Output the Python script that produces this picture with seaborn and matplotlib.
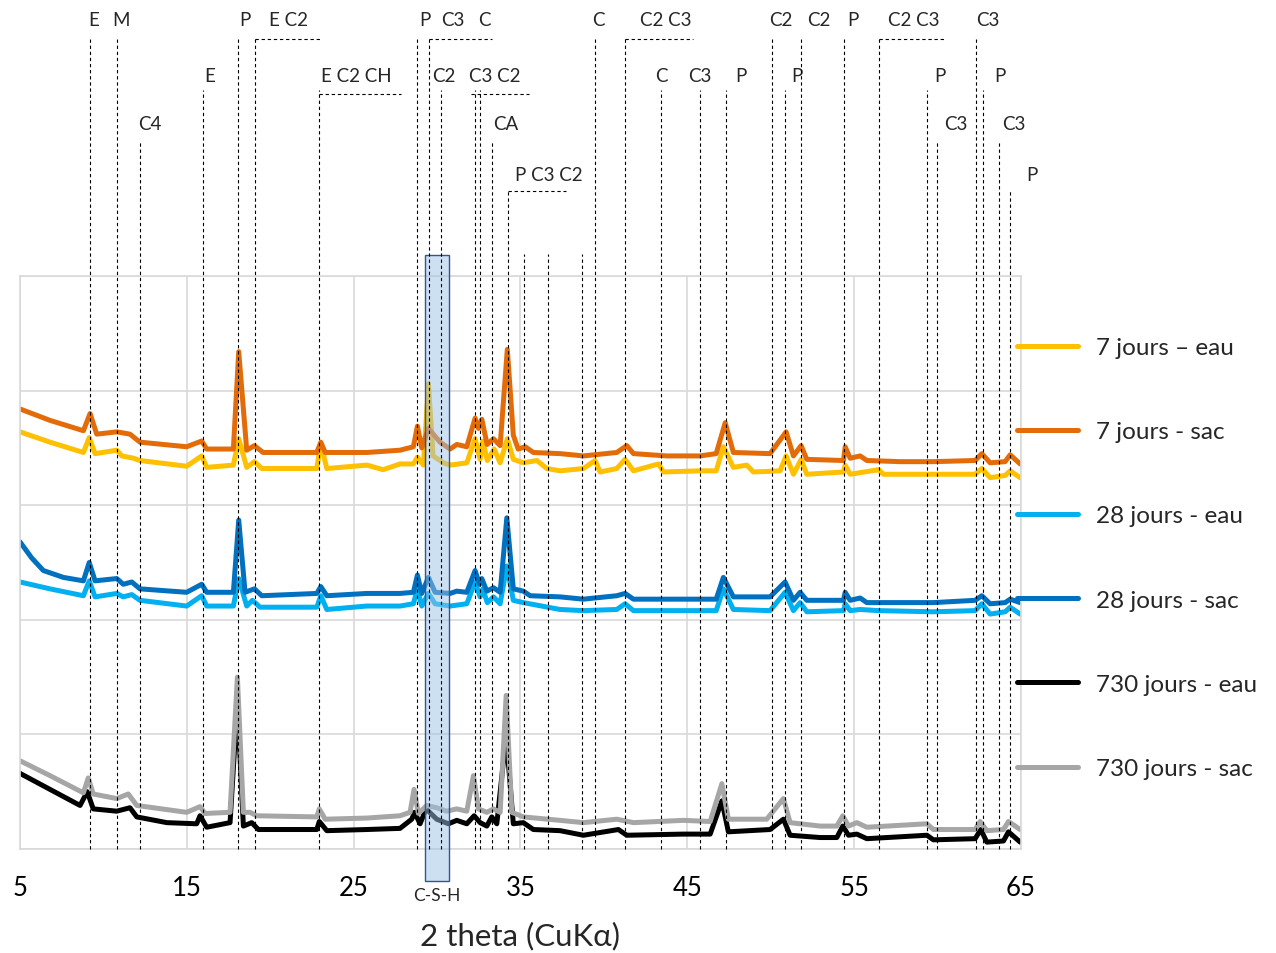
import matplotlib.pyplot as plt
import numpy as np
import pandas as pd
import seaborn as sns
from matplotlib.patches import Rectangle

# diffractograms: 2 theta (deg) and intensity (a.u., 1 = one grid step)
x_7j_eau = [5.00, 6.80, 8.80, 9.15, 9.50, 10.80, 11.10, 11.79, 12.19, 14.99, 15.89, 16.19, 17.79, 18.11, 18.59,
            19.05, 19.49, 22.79, 23.03, 23.39, 25.79, 26.76, 27.78, 28.58, 28.82, 29.18, 29.48, 29.76,
            30.38, 30.78, 31.78, 32.28, 32.58, 32.74, 33.01, 33.42, 33.78, 34.21, 34.57, 35.17, 35.98,
            36.58, 37.37, 38.77, 39.47, 39.77, 40.77, 41.27, 41.77, 43.27, 43.57, 45.77, 46.73, 47.16,
            47.76, 48.56, 48.96, 50.56, 50.92, 51.36, 51.82, 52.16, 54.36, 54.46, 54.76, 56.46, 56.76,
            59.75, 62.25, 62.65, 63.15, 64.05, 64.35, 64.95]
y_7j_eau = [3.64, 3.55, 3.46, 3.59, 3.45, 3.48, 3.43, 3.41, 3.39, 3.34, 3.43, 3.33, 3.35, 3.58, 3.33,
            3.38, 3.32, 3.32, 3.54, 3.32, 3.35, 3.31, 3.36, 3.36, 3.42, 3.35, 4.06, 3.43,
            3.37, 3.35, 3.37, 3.58, 3.40, 3.56, 3.39, 3.49, 3.37, 3.58, 3.40, 3.37, 3.39,
            3.32, 3.30, 3.32, 3.39, 3.29, 3.32, 3.40, 3.30, 3.36, 3.29, 3.30, 3.30, 3.51,
            3.33, 3.35, 3.29, 3.30, 3.43, 3.27, 3.40, 3.27, 3.29, 3.35, 3.27, 3.31, 3.27,
            3.27, 3.27, 3.32, 3.24, 3.26, 3.30, 3.24]

x_7j_sac = [5.00, 6.80, 8.80, 9.20, 9.60, 10.80, 11.59, 12.19, 14.99, 15.89, 16.19, 17.79, 18.11, 18.59, 19.05,
            19.57, 22.79, 23.03, 23.29, 25.79, 27.78, 28.58, 28.82, 29.08, 29.48, 30.18, 30.78, 31.18,
            31.78, 32.28, 32.48, 32.68, 33.00, 33.38, 33.78, 34.21, 34.57, 34.86, 35.28, 35.77, 37.37,
            38.77, 40.77, 41.37, 41.77, 43.77, 45.77, 46.73, 47.27, 47.76, 49.96, 50.92, 51.36, 51.82,
            52.16, 54.36, 54.46, 54.76, 55.36, 55.76, 57.76, 59.75, 62.25, 62.65, 63.15, 64.05, 64.35,
            64.95]
y_7j_sac = [3.84, 3.74, 3.65, 3.80, 3.62, 3.64, 3.62, 3.55, 3.51, 3.56, 3.49, 3.49, 4.34, 3.48, 3.52,
            3.46, 3.46, 3.55, 3.46, 3.46, 3.48, 3.51, 3.69, 3.50, 3.67, 3.55, 3.49, 3.53,
            3.51, 3.76, 3.67, 3.75, 3.53, 3.58, 3.52, 4.36, 3.61, 3.49, 3.51, 3.46, 3.45,
            3.43, 3.46, 3.52, 3.45, 3.43, 3.43, 3.45, 3.72, 3.46, 3.45, 3.64, 3.43, 3.52,
            3.40, 3.39, 3.51, 3.41, 3.43, 3.39, 3.38, 3.38, 3.39, 3.45, 3.37, 3.38, 3.44,
            3.36]

x_28j_eau = [5.00, 6.80, 8.80, 9.15, 9.50, 10.80, 11.19, 11.70, 12.19, 14.99, 15.89, 16.19, 17.79, 18.11, 18.59,
             18.93, 19.39, 22.79, 23.03, 23.39, 25.79, 27.78, 28.58, 28.82, 29.08, 29.48, 29.88, 30.78,
             31.78, 32.28, 32.58, 32.74, 33.01, 33.38, 33.78, 34.18, 34.57, 35.17, 37.37, 38.77, 40.77,
             41.27, 41.77, 45.77, 46.73, 47.16, 47.76, 49.96, 50.86, 51.36, 51.76, 52.16, 54.36, 54.46,
             54.76, 55.36, 56.46, 59.75, 62.25, 62.65, 63.15, 64.05, 64.35, 64.95]
y_28j_eau = [2.33, 2.27, 2.21, 2.34, 2.20, 2.23, 2.20, 2.22, 2.17, 2.12, 2.21, 2.12, 2.12, 2.36, 2.12,
             2.17, 2.11, 2.11, 2.21, 2.09, 2.12, 2.12, 2.14, 2.27, 2.12, 2.23, 2.14, 2.12,
             2.14, 2.33, 2.20, 2.27, 2.15, 2.20, 2.14, 2.47, 2.17, 2.15, 2.09, 2.08, 2.09,
             2.14, 2.08, 2.08, 2.08, 2.27, 2.09, 2.08, 2.24, 2.08, 2.15, 2.07, 2.08, 2.14,
             2.08, 2.09, 2.08, 2.07, 2.08, 2.14, 2.05, 2.07, 2.11, 2.05]

x_28j_sac = [5.00, 5.70, 6.40, 7.60, 8.80, 9.15, 9.50, 10.80, 11.19, 11.70, 12.19, 14.99, 15.89, 16.19, 17.79, 18.11,
             18.49, 19.05, 19.49, 22.79, 23.03, 23.39, 25.79, 27.78, 28.58, 28.82, 29.08, 29.48, 29.88,
             30.78, 31.18, 31.78, 32.28, 32.54, 32.68, 32.98, 33.38, 33.78, 34.18, 34.57, 35.17, 35.58,
             37.37, 38.77, 40.77, 41.27, 41.77, 45.77, 46.73, 47.16, 47.76, 49.96, 50.86, 51.36, 51.76,
             52.16, 54.36, 54.46, 54.76, 55.36, 55.76, 59.75, 62.25, 62.65, 63.15, 64.05, 64.35, 64.95]
y_28j_sac = [2.68, 2.54, 2.43, 2.37, 2.34, 2.50, 2.34, 2.36, 2.31, 2.33, 2.27, 2.24, 2.31, 2.24, 2.24, 2.87,
             2.24, 2.27, 2.21, 2.23, 2.29, 2.21, 2.23, 2.23, 2.24, 2.39, 2.23, 2.37, 2.24,
             2.23, 2.25, 2.24, 2.43, 2.31, 2.36, 2.25, 2.28, 2.24, 2.89, 2.27, 2.25, 2.21,
             2.20, 2.18, 2.21, 2.23, 2.18, 2.18, 2.18, 2.37, 2.20, 2.20, 2.33, 2.17, 2.24,
             2.17, 2.17, 2.24, 2.17, 2.19, 2.15, 2.15, 2.17, 2.21, 2.14, 2.15, 2.18, 2.15]

x_730j_eau = [5.00, 6.80, 8.60, 9.03, 9.39, 10.80, 11.59, 12.00, 13.80, 15.59, 15.79, 16.19, 17.59, 18.03,
              18.39, 18.89, 19.29, 22.79, 22.94, 23.39, 25.79, 27.78, 28.48, 28.65, 28.98, 29.34, 29.98,
              30.68, 31.18, 31.78, 32.22, 32.58, 32.98, 33.28, 33.58, 34.14, 34.57, 35.17, 35.77, 37.37,
              38.77, 40.87, 41.37, 44.77, 46.37, 47.07, 47.46, 49.96, 50.76, 51.16, 52.96, 53.96, 54.32,
              54.66, 55.16, 55.76, 59.36, 59.75, 62.25, 62.59, 62.95, 63.95, 64.25, 64.95]
y_730j_eau = [0.66, 0.52, 0.38, 0.50, 0.35, 0.33, 0.36, 0.28, 0.23, 0.22, 0.29, 0.19, 0.23, 1.28,
              0.20, 0.23, 0.17, 0.17, 0.24, 0.16, 0.17, 0.18, 0.26, 0.32, 0.22, 0.35, 0.26,
              0.22, 0.25, 0.22, 0.29, 0.23, 0.20, 0.28, 0.22, 0.99, 0.22, 0.23, 0.17, 0.16,
              0.12, 0.17, 0.12, 0.13, 0.13, 0.42, 0.15, 0.17, 0.26, 0.12, 0.10, 0.10, 0.20,
              0.12, 0.13, 0.09, 0.12, 0.08, 0.09, 0.17, 0.06, 0.07, 0.15, 0.06]

x_730j_sac = [5.00, 6.80, 8.80, 9.09, 9.39, 10.80, 11.49, 12.00, 14.99, 15.79, 16.09, 17.59, 18.03, 18.39,
              18.79, 19.19, 22.79, 22.94, 23.29, 25.79, 27.78, 28.38, 28.62, 28.88, 29.38, 29.98, 30.58,
              31.18, 31.78, 32.18, 32.48, 32.98, 33.38, 33.78, 34.14, 34.48, 35.17, 37.37, 38.77, 40.77,
              41.77, 44.77, 46.37, 47.07, 47.46, 49.76, 50.76, 51.16, 52.96, 53.96, 54.32, 54.66, 55.16,
              55.76, 59.36, 59.75, 62.25, 62.55, 62.95, 63.95, 64.25, 64.95]
y_730j_sac = [0.77, 0.64, 0.49, 0.62, 0.48, 0.44, 0.48, 0.38, 0.32, 0.37, 0.31, 0.32, 1.50, 0.32,
              0.32, 0.29, 0.28, 0.35, 0.26, 0.27, 0.29, 0.32, 0.52, 0.31, 0.38, 0.36, 0.33,
              0.35, 0.33, 0.64, 0.35, 0.32, 0.35, 0.32, 1.34, 0.32, 0.28, 0.25, 0.23, 0.26,
              0.23, 0.25, 0.24, 0.57, 0.26, 0.26, 0.44, 0.23, 0.20, 0.20, 0.29, 0.20, 0.23,
              0.19, 0.22, 0.17, 0.17, 0.24, 0.16, 0.17, 0.24, 0.17]

series_names = ["7 jours – eau", "7 jours - sac", "28 jours - eau", "28 jours - sac",
                "730 jours - eau", "730 jours - sac"]
series_colors = ["#FFC000", "#E36C09", "#00B0F0", "#0070C0", "#000000", "#A6A6A6"]
series_x = [x_7j_eau, x_7j_sac, x_28j_eau, x_28j_sac, x_730j_eau, x_730j_sac]
series_y = [y_7j_eau, y_7j_sac, y_28j_eau, y_28j_sac, y_730j_eau, y_730j_sac]

# phase reference lines (2 theta) and how high the dashed line goes
ref_pos = [9.20, 10.83, 18.07, 19.07, 28.78, 29.50, 39.49, 41.29, 50.08, 51.82, 54.40, 56.46, 62.30,
           15.97, 22.93, 30.22, 32.28, 32.60, 43.43, 45.77, 47.31, 50.86, 59.39, 62.75,
           12.19, 33.32, 59.99, 63.69,
           34.24, 64.35,
           35.22, 36.67, 38.71]
ref_top = [7.07] * 13 + [6.62] * 11 + [6.17] * 4 + [5.74] * 2 + [5.19] * 3
# horizontal parts of grouped labels
bracket_y = [7.07, 7.07, 7.07, 7.07, 6.59, 6.59, 5.74]
bracket_x0 = [19.07, 29.50, 41.29, 56.46, 22.93, 32.04, 34.24]
bracket_x1 = [23.03, 33.28, 45.33, 60.40, 27.82, 35.53, 37.73]

phase_labels = ["E", "M", "P", "E C2", "P", "C3", "C", "C", "C2 C3", "C2", "C2", "P", "C2 C3", "C3",
                "E", "E C2 CH", "C2", "C3 C2", "C", "C3", "P", "P", "P", "P",
                "C4", "CA", "C3", "C3",
                "P C3 C2", "P"]
phase_label_x = [9.41, 11.06, 18.49, 21.07, 29.28, 30.96, 32.82, 39.68, 43.73, 50.62, 52.87, 54.94, 58.60, 63.00,
                 16.36, 25.17, 30.42, 33.48, 43.43, 45.77, 48.23, 51.58, 60.16, 63.75,
                 12.76, 34.14, 61.12, 64.59,
                 36.68, 65.67]
phase_label_y = [7.24] * 14 + [6.75] * 10 + [6.33] * 4 + [5.89] * 2

csh_range = (29.26, 30.72)

rows = []
for name, xs, ys in zip(series_names, series_x, series_y):
    for xv, yv in zip(xs, ys):
        rows.append((name, xv, yv))
df = pd.DataFrame(rows, columns=["serie", "2theta", "I"])

sns.set_style("whitegrid")
plt.rcParams['font.family'] = ['Lato', 'DejaVu Sans']

fig = plt.figure(figsize=(12.76, 9.54), dpi=100)
ax = fig.add_axes([20 / 1276, 1 - 850 / 954, 1001 / 1276, 573 / 954])

sns.lineplot(data=df, x="2theta", y="I", hue="serie", hue_order=series_names,
             palette=series_colors, estimator=None, sort=False, linewidth=3.6, ax=ax, zorder=2)

ax.set_xlim(5, 65)
ax.set_ylim(0, 5)
ax.set_xticks(np.arange(5, 66, 10))
ax.set_yticks(np.arange(0, 5.1, 1))
ax.set_yticklabels([])
ax.grid(True, color="#D9D9D9", linewidth=1.2)
for sp in ax.spines.values():
    sp.set_color("#D9D9D9")
    sp.set_linewidth(1.2)
ax.tick_params(axis="x", length=0, pad=19, labelsize=18.5, labelcolor="black")
ax.tick_params(axis="y", length=0)
ax.set_ylabel("")
ax.set_xlabel("2 theta (CuK\u03b1)", fontsize=22.5, labelpad=15)

# C-S-H zone
ax.add_patch(Rectangle((csh_range[0], -0.28), csh_range[1] - csh_range[0], 5.46,
                       facecolor=(0.616, 0.765, 0.902, 0.5), edgecolor="#2F5597", linewidth=1,
                       clip_on=False, zorder=3))
ax.text(sum(csh_range) / 2, -0.40, "C-S-H", ha="center", va="center", fontsize=12.5)

ax.vlines(ref_pos, 0, ref_top, colors="black", linewidth=0.8, linestyles=(0, (3, 2.5)),
          clip_on=False, zorder=4)
ax.hlines(bracket_y, bracket_x0, bracket_x1, colors="black", linewidth=0.8,
          linestyles=(0, (3, 2.5)), clip_on=False, zorder=4)
for lab, lx, ly in zip(phase_labels, phase_label_x, phase_label_y):
    ax.text(lx, ly, lab, ha="center", va="center", fontsize=13.5)

handles, labels = ax.get_legend_handles_labels()
ax.get_legend().remove()
fig.legend(handles, labels, loc="upper left", bbox_to_anchor=(1017 / 1276, 1 - 338 / 954),
           frameon=False, fontsize=17.5, handlelength=2.5, handletextpad=0.75,
           labelspacing=2.6, borderpad=0, borderaxespad=0)

plt.savefig("out.png", dpi=100)
